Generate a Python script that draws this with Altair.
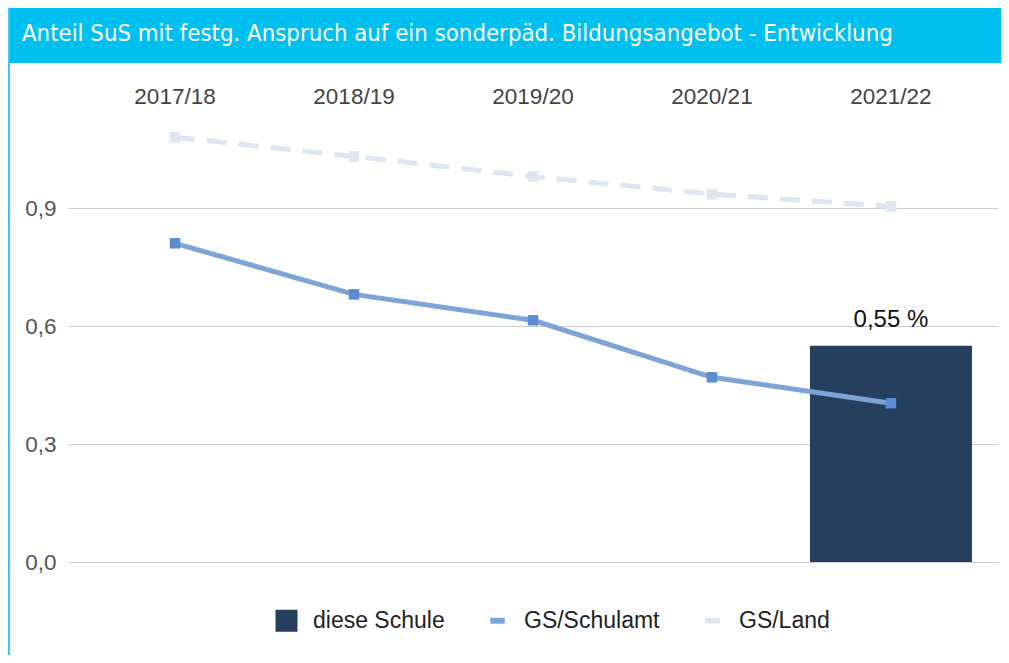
import altair as alt
import pandas as pd

years = ["2017/18", "2018/19", "2019/20", "2020/21", "2021/22"]
schule_years = ["2021/22"]
schule_values = [0.55]
schulamt_values = [0.811, 0.681, 0.615, 0.470, 0.404]
land_values = [1.081, 1.032, 0.981, 0.936, 0.905]
series = ["diese Schule", "GS/Schulamt", "GS/Land"]
colors = ["#263f5f", "#7ea3d6", "#dde6f2"]
title_text = "Anteil SuS mit festg. Anspruch auf ein sonderpäd. Bildungsangebot - Entwicklung"

bar_df = pd.DataFrame({"Jahr": schule_years, "Wert": schule_values, "Serie": ["diese Schule"]})
amt_df = pd.DataFrame({"Jahr": years, "Wert": schulamt_values, "Serie": "GS/Schulamt"})
land_df = pd.DataFrame({"Jahr": years, "Wert": land_values, "Serie": "GS/Land"})
legend_df = pd.DataFrame({"Jahr": years[:3], "Wert": schulamt_values[:3], "Serie": series})

W, H = 930, 448
FONT = "Liberation Sans"

x_enc = alt.X("Jahr:N", sort=years,
              scale=alt.Scale(domain=years, paddingInner=0.095, paddingOuter=0.1455),
              axis=alt.Axis(orient="top", title=None, domain=False, ticks=False, labelAngle=0,
                            labelPadding=6, labelFontSize=22.5, labelColor="#444444", labelFont=FONT))
y_scale = alt.Scale(domain=[0, 1.14], nice=False, zero=True)
y_enc = alt.Y("Wert:Q", scale=y_scale,
              axis=alt.Axis(title=None, values=[0, 0.3, 0.6, 0.9], domain=False, ticks=False,
                            labelExpr="replace(format(datum.value, '.1f'), '.', ',')",
                            labelPadding=12, labelFontSize=22.5, labelColor="#555555", labelFont=FONT,
                            grid=True, gridColor="#cccccc", gridWidth=1.2))

legend = alt.Legend(title=None, orient="none", direction="horizontal",
                    legendX=207, legendY=495,
                    labelFontSize=23, labelFont=FONT, labelColor="#222222",
                    symbolSize=484, symbolStrokeWidth=0, columnPadding=41,
                    labelOffset=15, symbolOpacity=1)
line_sym = "M-0.66,-0.27H0.66V0.27H-0.66Z"
color_enc = alt.Color("Serie:N", scale=alt.Scale(domain=series, range=colors), legend=legend)
shape_enc = alt.Shape("Serie:N", scale=alt.Scale(domain=series,
                      range=["square", line_sym, line_sym]), legend=legend)

# card decorations (header band and left border)
header = alt.Chart(pd.DataFrame({"a": [0]})).mark_rect(color="#00c0ef").encode(
    x=alt.value(-60), x2=alt.value(W + 10), y=alt.value(-106), y2=alt.value(-51))
left_border = alt.Chart(pd.DataFrame({"a": [0]})).mark_rect(color="#3cc8f0").encode(
    x=alt.value(-60), x2=alt.value(-58), y=alt.value(-106), y2=alt.value(H + 100))
title = alt.Chart(pd.DataFrame({"t": [title_text]})).mark_text(
    align="left", baseline="middle", color="white", fontSize=23.75,
    font="DejaVu Sans Condensed, Roboto, sans-serif").encode(
    x=alt.value(-46), y=alt.value(-80), text="t:N")

bars = alt.Chart(bar_df).mark_bar(color=colors[0]).encode(x=x_enc, y=y_enc)
bar_label = alt.Chart(bar_df).mark_text(dy=-26, fontSize=24, font=FONT, color="#111111").encode(
    x=x_enc, y=y_enc, text=alt.Text("lab:N")).transform_calculate(
    lab="replace(format(datum.Wert, '.2f'), '.', ',') + ' %'")

land_line = alt.Chart(land_df).mark_line(strokeWidth=5, strokeDash=[20, 12], color=colors[2]).encode(
    x=x_enc, y=y_enc)
land_pts = alt.Chart(land_df).mark_point(shape="square", filled=True, size=110, opacity=1,
                                          color="#dde6f2").encode(x=x_enc, y=y_enc)
amt_line = alt.Chart(amt_df).mark_line(strokeWidth=5, color=colors[1]).encode(x=x_enc, y=y_enc)
amt_pts = alt.Chart(amt_df).mark_point(shape="square", filled=True, size=110, opacity=1,
                                        color="#5b8bd0").encode(x=x_enc, y=y_enc)
legend_pts = alt.Chart(legend_df).mark_point(filled=True, size=0, opacity=1).encode(
    x=x_enc, y=y_enc, color=color_enc, shape=shape_enc)

chart = alt.layer(header, left_border, title, bars, bar_label, land_line, land_pts, amt_line, amt_pts,
                  legend_pts).properties(
    width=W, height=H,
    autosize=alt.AutoSizeParams(type="none"),
    padding={"left": 60, "top": 106, "right": 3, "bottom": 93},
    background="white",
).configure_view(stroke=None)

chart.save("out.html", embed_options={"renderer": "svg", "actions": False})
